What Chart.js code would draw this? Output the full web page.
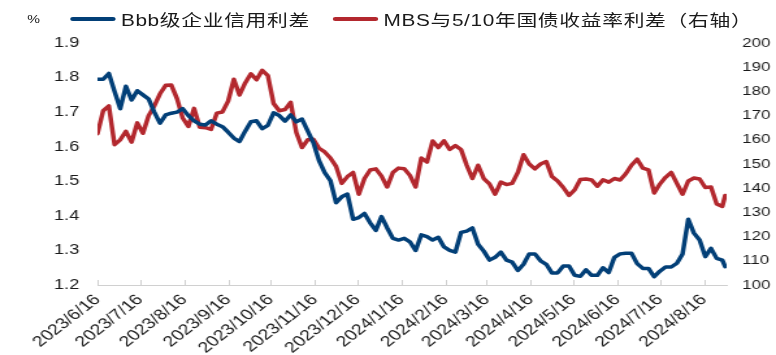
<!DOCTYPE html>
<html>
<head>
<meta charset="utf-8">
<script src="https://cdn.jsdelivr.net/npm/chart.js@4.4.1/dist/chart.umd.min.js"></script>
<style>
  html, body { margin: 0; padding: 0; background: #fff; }
  /* the source picture is stretched sideways, so draw narrow and stretch */
  #stage { position: relative; width: 597px; height: 355px; transform: scale(1.2998, 1); transform-origin: 0 0; }
  #chartCanvas { position: absolute; left: 0; top: 0; }
  #legend { position: absolute; left: 0; top: 0; width: 597px; height: 40px; font-family: "Liberation Sans", "Noto Sans CJK SC", sans-serif; color: #1a1a1a; }
  .unit { position: absolute; left: 21px; top: 13px; font-size: 11px; }
  .item { position: absolute; top: 9px; height: 20px; display: flex; align-items: center; font-size: 16px; letter-spacing: 0.5px; white-space: nowrap; }
  .swatch { display: inline-block; width: 35px; height: 4px; border-radius: 2px; margin-right: 4px; }
</style>
</head>
<body>
<div id="stage">
  <canvas id="chartCanvas" width="597" height="355" style="width:597px;height:355px"></canvas>
  <div id="legend"></div>
</div>
<script>
const seriesNames = ['Bbb级企业信用利差', 'MBS与5/10年国债收益率利差（右轴）'];
const seriesColors = ['#023f77', '#b3282e'];
const unitLabel = '%';

const tickLabels = ['2023/6/16', '2023/7/16', '2023/8/16', '2023/9/16', '2023/10/16', '2023/11/16',
  '2023/12/16', '2024/1/16', '2024/2/16', '2024/3/16', '2024/4/16', '2024/5/16',
  '2024/6/16', '2024/7/16', '2024/8/16'];

// sample dates: every 4th calendar day from 2023/6/16, last one 2024/8/31
const sampleDays = [];
for (let d = 0; d <= 440; d += 4) sampleDays.push(d);
sampleDays.push(442);

// Bbb corporate credit spread, %
const bbbSpread = [1.795, 1.795, 1.812, 1.76, 1.71, 1.775, 1.735, 1.762, 1.75, 1.738,
  1.70, 1.668, 1.692, 1.697, 1.70, 1.71, 1.69, 1.675, 1.665, 1.663,
  1.675, 1.665, 1.658, 1.642, 1.625, 1.615, 1.645, 1.672, 1.675, 1.652,
  1.662, 1.698, 1.69, 1.674, 1.692, 1.672, 1.68, 1.646, 1.612, 1.56,
  1.525, 1.502, 1.438, 1.455, 1.463, 1.39, 1.395, 1.407, 1.38, 1.358,
  1.398, 1.365, 1.335, 1.33, 1.335, 1.325, 1.30, 1.345, 1.34, 1.33,
  1.338, 1.31, 1.30, 1.295, 1.352, 1.356, 1.365, 1.318, 1.298, 1.272,
  1.28, 1.295, 1.272, 1.266, 1.242, 1.26, 1.29, 1.29, 1.27, 1.26,
  1.235, 1.235, 1.255, 1.255, 1.228, 1.225, 1.244, 1.228, 1.228, 1.25,
  1.236, 1.28, 1.29, 1.292, 1.292, 1.262, 1.248, 1.248, 1.224, 1.24,
  1.252, 1.252, 1.263, 1.29, 1.39, 1.35, 1.33, 1.282, 1.306, 1.277,
  1.272, 1.253];

// MBS vs 5/10y treasury spread, bp (right axis)
const mbsSpread = [162.5, 172, 174, 158, 160, 163.5, 159, 167, 162.7, 170,
  174, 179, 182.5, 182.6, 177, 169, 165.5, 173, 165.2, 165,
  164.3, 171, 171.5, 176, 185, 178.5, 183.5, 187.3, 184.8, 188.7,
  186.5, 175, 172, 172.5, 175.5, 163, 156.8, 160, 160.2, 156.5,
  155, 152.5, 149, 142, 144.8, 146.5, 137.5, 144, 147.5, 148,
  145, 140.5, 146.5, 148.3, 148, 145.3, 140.5, 152.5, 150.8, 159.5,
  156.8, 159.6, 156, 157.6, 156, 149.5, 144, 149.5, 144, 141.8,
  137.5, 142.5, 141.5, 142, 146.5, 153.8, 150, 148, 150, 151,
  144.8, 143, 140.3, 137, 139.3, 143.6, 143.8, 143.4, 140.8, 143.5,
  142.5, 144, 143.4, 146, 149.5, 152, 148.3, 147.6, 138, 141.7,
  144.5, 146.5, 142, 137.5, 143, 144.2, 143.8, 140.3, 140.5, 133.5,
  132.5, 137];

function dayOffset(label) {
  const p = label.split('/').map(Number);
  return Math.round((Date.UTC(p[0], p[1] - 1, p[2]) - Date.UTC(2023, 5, 16)) / 86400000);
}

document.addEventListener("DOMContentLoaded", function() {
  // html legend
  const legend = document.getElementById('legend');
  const unit = document.createElement('span');
  unit.className = 'unit';
  unit.textContent = unitLabel;
  legend.appendChild(unit);
  const itemLeft = [54, 256];
  seriesNames.forEach(function(name, i) {
    const item = document.createElement('div');
    item.className = 'item';
    item.style.left = itemLeft[i] + 'px';
    const sw = document.createElement('span');
    sw.className = 'swatch';
    sw.style.background = seriesColors[i];
    const txt = document.createElement('span');
    txt.textContent = name;
    item.appendChild(sw);
    item.appendChild(txt);
    legend.appendChild(item);
  });

  const tickDays = tickLabels.map(dayOffset);

  // small tick marks pointing up from the x axis line
  const innerTicks = {
    id: 'innerTicks',
    beforeDatasetsDraw(chart) {
      const ctx = chart.ctx;
      const x = chart.scales.x;
      const bottom = chart.chartArea.bottom;
      ctx.save();
      ctx.strokeStyle = '#d0d0d0';
      ctx.lineWidth = 1;
      tickDays.forEach(function(d) {
        const px = Math.round(x.getPixelForValue(d)) + 0.5;
        ctx.beginPath();
        ctx.moveTo(px, bottom);
        ctx.lineTo(px, bottom - 5);
        ctx.stroke();
      });
      ctx.restore();
    }
  };

  const tickColor = '#1a1a1a';
  const ctx = document.getElementById('chartCanvas').getContext('2d');
  const chart = new Chart(ctx, {
    type: 'line',
    data: {
      datasets: [{
        label: seriesNames[0],
        data: sampleDays.map((d, i) => ({ x: d, y: bbbSpread[i] })),
        yAxisID: 'y',
        borderColor: seriesColors[0],
        borderWidth: 3.5,
        pointRadius: 0,
        tension: 0,
        borderJoinStyle: 'round',
        borderCapStyle: 'round'
      }, {
        label: seriesNames[1],
        data: sampleDays.map((d, i) => ({ x: d, y: mbsSpread[i] })),
        yAxisID: 'y1',
        borderColor: seriesColors[1],
        borderWidth: 3.5,
        pointRadius: 0,
        tension: 0,
        borderJoinStyle: 'round',
        borderCapStyle: 'round'
      }]
    },
    options: {
      responsive: false,
      animation: false,
      layout: { padding: { top: 43, left: 0, right: 0, bottom: 0 } },
      plugins: {
        legend: { display: false },
        tooltip: { enabled: false }
      },
      scales: {
        x: {
          type: 'linear',
          min: 0,
          max: 443,
          grid: { display: false, drawTicks: false },
          border: { display: true, color: '#d0d0d0', width: 1 },
          afterBuildTicks: function(scale) {
            scale.ticks = tickDays.map(v => ({ value: v }));
          },
          afterFit: function(scale) { scale.height = 70; },
          ticks: {
            autoSkip: false,
            minRotation: 45,
            maxRotation: 45,
            padding: 6,
            color: tickColor,
            font: { family: 'Liberation Sans', size: 15 },
            callback: (v, i) => tickLabels[i]
          }
        },
        y: {
          position: 'left',
          min: 1.2,
          max: 1.9,
          grid: { display: false, drawTicks: false },
          border: { display: false },
          afterFit: function(scale) { scale.width = 75; },
          ticks: {
            stepSize: 0.1,
            padding: 14,
            color: tickColor,
            font: { family: 'Liberation Sans', size: 14 },
            callback: v => v.toFixed(1)
          }
        },
        y1: {
          position: 'right',
          min: 100,
          max: 200,
          grid: { display: false, drawTicks: false },
          border: { display: false },
          afterFit: function(scale) { scale.width = 38; },
          ticks: {
            stepSize: 10,
            padding: 12,
            color: tickColor,
            font: { family: 'Liberation Sans', size: 13 }
          }
        }
      }
    },
    plugins: [innerTicks]
  });
});
</script>
</body>
</html>
